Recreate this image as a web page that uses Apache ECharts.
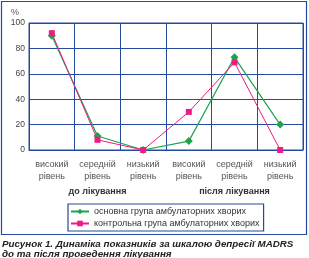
<!DOCTYPE html>
<html><head><meta charset="utf-8">
<script src="https://cdn.jsdelivr.net/npm/echarts@6/dist/echarts.min.js"></script>
<style>html,body{margin:0;padding:0;background:#fff}#c{width:309px;height:258px}</style>
</head><body><div id="c"></div>
<script>
var categories = ['високий\nрівень','середній\nрівень','низький\nрівень','високий\nрівень','середній\nрівень','низький\nрівень'];
var groups = ['до лікування','після лікування'];
var mainGroup = [90, 11, 0, 7, 73, 20];
var controlGroup = [92, 8, 0, 30, 69, 0];
var yTicks = {min:0, max:100, interval:20};
var seriesNames = ['основна група амбулаторних хворих','контрольна група амбулаторних хворих'];
var caption = 'Рисунок 1. Динаміка показників за шкалою депресії MADRS\nдо та після проведення лікування';

var blue = '#234a9c';
var chart = echarts.init(document.getElementById('c'), null, {renderer:'canvas'});
chart.setOption({
  animation:false,
  textStyle:{fontFamily:'Liberation Sans, Arial, sans-serif'},
  title:{text:caption,left:2,top:239,padding:0,textStyle:{fontSize:9.8,fontWeight:'bold',fontStyle:'italic',color:'#222',lineHeight:10}},
  graphic:[{type:'rect',shape:{x:1.5,y:1.5,width:305,height:233},style:{fill:'none',stroke:blue,lineWidth:1.2},silent:true}],
  grid:{left:29,right:6,top:23,bottom:108,show:true,borderColor:blue,borderWidth:1},
  legend:{orient:'vertical',left:68,top:204,itemWidth:18,itemHeight:7,itemGap:3,padding:[3,4,3,2],
    borderColor:blue,borderWidth:1.2,textStyle:{fontSize:9,color:'#333'},data:seriesNames},
  xAxis:[{type:'category',data:categories,boundaryGap:true,
    axisLine:{lineStyle:{color:blue}},axisTick:{show:false},
    splitLine:{show:true,lineStyle:{color:blue,width:1}},
    axisLabel:{fontSize:9,color:'#555',lineHeight:12,margin:9,interval:0}},
   {type:'category',data:groups,position:'bottom',offset:37,boundaryGap:true,
    axisLine:{show:false},axisTick:{show:false},splitLine:{show:false},
    axisLabel:{fontSize:9,fontWeight:'bold',color:'#333',margin:0}}],
  yAxis:{type:'value',min:yTicks.min,max:yTicks.max,interval:yTicks.interval,
    name:'%',nameLocation:'end',nameGap:6,nameTextStyle:{fontSize:9,color:'#555',align:'right',padding:[0,10,0,0]},
    axisLine:{show:false},axisTick:{show:false},
    splitLine:{lineStyle:{color:blue,width:1}},
    axisLabel:{fontSize:8.5,color:'#444',margin:4}},
  series:[
    {name:seriesNames[0],type:'line',data:mainGroup,symbol:'diamond',symbolSize:8,
     itemStyle:{color:'#1ea34c'},lineStyle:{color:'#1ea34c',width:1.2},z:2},
    {name:seriesNames[1],type:'line',data:controlGroup,symbol:'rect',symbolSize:6,
     itemStyle:{color:'#ee1b84'},lineStyle:{color:'#ee1b84',width:1},z:3}
  ]
});
</script></body></html>
